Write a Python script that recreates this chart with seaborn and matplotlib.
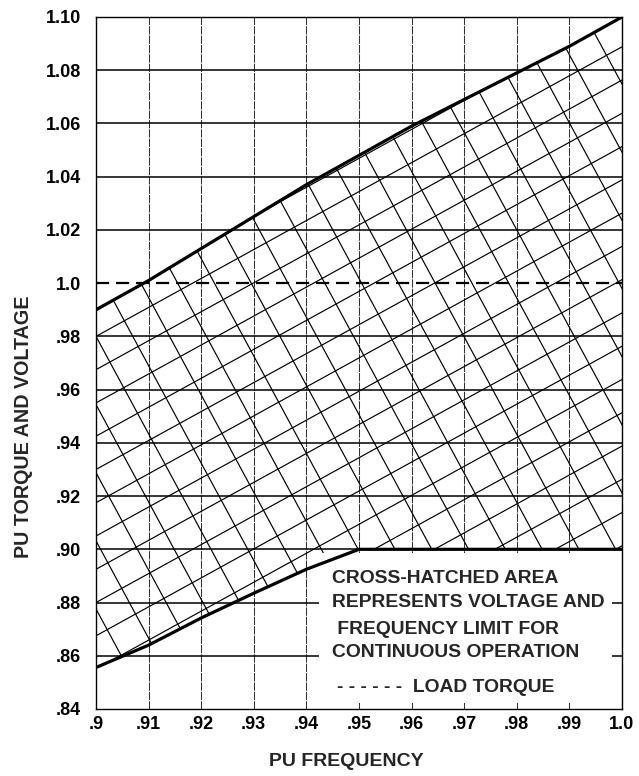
import numpy as np
import pandas as pd
import matplotlib
matplotlib.use("Agg")
import matplotlib.pyplot as plt
from matplotlib.patches import Polygon, Rectangle
import seaborn as sns

# ---------------- data ----------------
freq = [0.90, 0.91, 0.92, 0.93, 0.94, 0.95, 0.96, 0.97, 0.98, 0.99, 1.00]
upper_limit = [0.990, 1.001, 1.013, 1.025, 1.037, 1.048, 1.059, 1.069, 1.079, 1.089, 1.100]
lower_limit = [0.8556, 0.864, 0.8742, 0.8835, 0.8925, 0.900, 0.900, 0.900, 0.900, 0.900, 0.900]
load_torque = 1.0

x_ticks = [0.90, 0.91, 0.92, 0.93, 0.94, 0.95, 0.96, 0.97, 0.98, 0.99, 1.00]
x_labels = [".9", ".91", ".92", ".93", ".94", ".95", ".96", ".97", ".98", ".99", "1.0"]
y_ticks = [0.84, 0.86, 0.88, 0.90, 0.92, 0.94, 0.96, 0.98, 1.00, 1.02, 1.04, 1.06, 1.08, 1.10]
y_labels = [".84", ".86", ".88", ".90", ".92", ".94", ".96", ".98", "1.0", "1.02", "1.04", "1.06", "1.08", "1.10"]

note_lines = ["CROSS-HATCHED AREA", "REPRESENTS VOLTAGE AND", " FREQUENCY LIMIT FOR", "CONTINUOUS OPERATION"]
legend_text = "- - - - - -  LOAD TORQUE"

df = pd.DataFrame({"freq": freq, "upper": upper_limit, "lower": lower_limit})

# ---------------- style ----------------
sns.set_theme(style="white")
plt.rcParams["font.family"] = ["Liberation Sans", "DejaVu Sans"]
plt.rcParams["font.weight"] = "bold"

W, H = 639, 776
fig = plt.figure(figsize=(W / 100, H / 100), dpi=100)
ax = fig.add_axes([96 / W, 1 - 709 / H, (622 - 96) / W, (709 - 17) / H])
ax.set_xlim(0.90, 1.00)
ax.set_ylim(0.84, 1.10)

# grid lines
for xv in x_ticks[1:-1]:
    ax.axvline(xv, color="#333333", lw=0.75, ls=(0, (8, 1)), zorder=1)
for yv in y_ticks[1:-1]:
    if abs(yv - load_torque) < 1e-9:
        continue
    ax.axhline(yv, color="black", lw=1.1, zorder=1)

# hatched region (clip path)
verts = np.vstack([np.column_stack([freq, upper_limit]),
                   np.column_stack([freq[::-1], lower_limit[::-1]])])
region = Polygon(verts, closed=True, fill=False, edgecolor="none")
ax.add_patch(region)

xs = np.array([0.895, 1.005])
rise_slope, fall_slope = 1.088, -3.66
for k in range(-16, 6):
    b = 0.98 + k * 0.0125
    ln, = ax.plot(xs, b + rise_slope * (xs - 0.9), color="black", lw=0.85, zorder=2)
    ln.set_clip_path(region)
for k in range(-7, 22):
    b = 0.98 + k * 0.0256
    ln, = ax.plot(xs, b + fall_slope * (xs - 0.9), color="black", lw=0.85, zorder=2)
    ln.set_clip_path(region)

# note box background
ax.add_patch(Rectangle((0.9424, 0.8424), 0.9981 - 0.9424, 0.8985 - 0.8424,
                       facecolor="white", edgecolor="none", zorder=3))

# boundaries
sns.lineplot(data=df, x="freq", y="upper", ax=ax, color="black", lw=2.3, zorder=4)
sns.lineplot(data=df, x="freq", y="lower", ax=ax, color="black", lw=2.3, zorder=4)
ax.axhline(load_torque, color="black", lw=1.6, ls=(0, (5.9, 3.1)), zorder=4)

# text
note_y = [0.8891, 0.8799, 0.8699, 0.8611]
for t, yv in zip(note_lines, note_y):
    ax.text(0.9449, yv, t, fontsize=13.9, fontweight="bold", va="center", ha="left", zorder=5)
ax.text(0.9459, 0.8479, legend_text, fontsize=13.9, fontweight="bold", va="center", ha="left", zorder=5)

ax.set_xticks(x_ticks)
ax.set_xticklabels(x_labels, fontsize=13, fontweight="bold")
ax.set_yticks(y_ticks)
ax.set_yticklabels(y_labels, fontsize=13, fontweight="bold")
ax.tick_params(axis="both", length=0, colors="black")
ax.tick_params(axis="y", pad=11)
ax.tick_params(axis="x", pad=5)
ax.set_xlabel("")
ax.set_ylabel("")
for s in ax.spines.values():
    s.set_color("black")
    s.set_linewidth(1.0)
    s.set_visible(True)

fig.text(23.5 / W, 1 - 427 / H, "PU TORQUE AND VOLTAGE", rotation=90, ha="center", va="center",
         fontsize=14.2, fontweight="bold")
fig.text(346 / W, 1 - 762 / H, "PU FREQUENCY", ha="center", va="center", fontsize=14, fontweight="bold")

fig.savefig("out.png", dpi=100, facecolor="white")
